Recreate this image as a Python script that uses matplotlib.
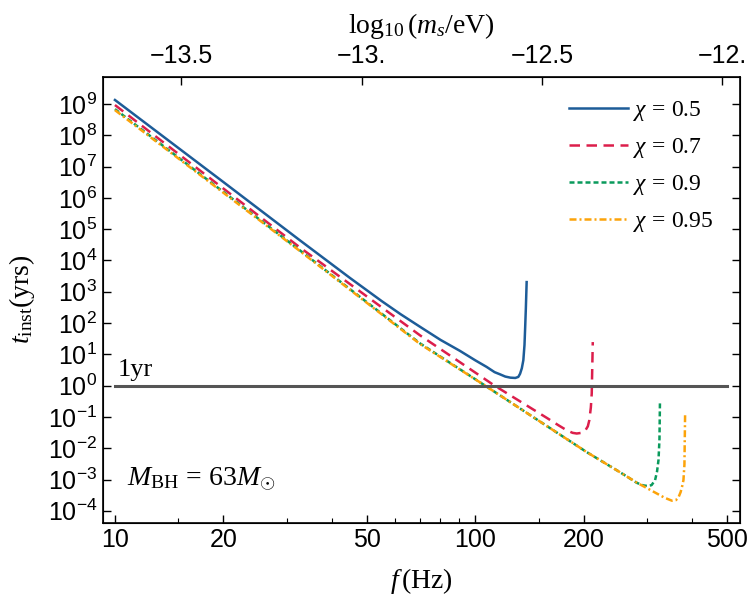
import numpy as np
import matplotlib
matplotlib.use("Agg")
import matplotlib.pyplot as plt
from matplotlib.ticker import FixedLocator, NullFormatter, NullLocator

plt.rcParams['mathtext.fontset'] = 'custom'
plt.rcParams['mathtext.rm'] = 'Liberation Serif'
plt.rcParams['mathtext.it'] = 'Liberation Serif:italic'
plt.rcParams['mathtext.sf'] = 'Liberation Sans'
plt.rcParams['font.family'] = ['Liberation Serif', 'DejaVu Serif']

# instability time (yrs) vs GW frequency (Hz)
f_05 = [10, 20, 32.6, 44.9, 55, 62, 70.2, 80, 90.6, 100, 107.4, 113, 117, 121, 125, 129,
        131.5, 133, 134.5, 135.8, 136.8, 137.4, 138, 138.7]
t_05 = [1.35e9, 3.2e6, 4.4e4, 2.75e3, 500, 192, 76, 29, 12.9, 6.4, 3.97, 2.7, 2.3, 1.95, 1.8, 1.76,
        1.9, 2.4, 3.6, 6.5, 20, 74, 300, 2040]

f_07 = [10, 32.6, 70.2, 90, 113, 133, 157.8, 170, 179, 186, 191, 197, 201.4, 205, 207, 209, 210.2, 211.6]
t_07 = [9.3e8, 2.6e4, 40.5, 5.9, 1.0, 0.314, 0.093, 0.054, 0.0377, 0.031, 0.0295, 0.031, 0.0356,
        0.05, 0.0785, 0.2, 0.56, 24.7]

f_09 = [10, 32.6, 70.2, 106.4, 150, 203.6, 252, 280.5, 292, 300, 308, 315, 319, 322, 324, 325]
t_09 = [6.9e8, 2.1e4, 22.4, 1.0, 0.075, 7.5e-3, 1.7e-3, 7.8e-4, 6.5e-4, 6.2e-4, 6.6e-4, 9.5e-4,
        1.8e-3, 4.2e-3, 0.02, 0.30]

f_095 = [10, 32.6, 70.2, 106.4, 150, 203.6, 252, 280.5, 311.6, 335, 350.9, 360, 365.9, 371, 375,
         377.6, 380, 381.6]
t_095 = [6.4e8, 2.0e4, 21.4, 1.0, 0.075, 7.5e-3, 1.7e-3, 7.9e-4, 4.1e-4, 2.6e-4, 2.1e-4, 2.2e-4,
         2.7e-4, 4.0e-4, 6.5e-4, 9.5e-4, 3.0e-3, 0.113]

labels = [r'$\chi\,=\,0.5$', r'$\chi\,=\,0.7$', r'$\chi\,=\,0.9$', r'$\chi\,=\,0.95$']
colors = ['#1d5c98', '#dc1e4b', '#0a9a5c', '#fca30a']

x_major = [10, 20, 50, 100, 200, 500]
x_minor = [15, 30, 40, 60, 70, 80, 90, 150, 300, 400]
y_major = [10.0 ** k for k in range(-4, 10)]
m_ticks = [-13.5, -13.0, -12.5, -12.0]
m_labels = ['\u221213.5', '\u221213.', '\u221212.5', '\u221212.']
h_eVs = 4.135667e-15

fig = plt.figure(figsize=(7.5, 6.03), dpi=100)
ax = fig.add_axes([0.137, 0.1332, 0.8497, 0.7399])

ax.plot(f_05, t_05, color=colors[0], lw=1.8, label=labels[0])
ax.plot(f_07, t_07, color=colors[1], lw=1.8, ls=(0, (4.2, 2.6)), label=labels[1])
ax.plot(f_09, t_09, color=colors[2], lw=1.8, ls=(0, (2.0, 1.2)), label=labels[2])
ax.plot(f_095, t_095, color=colors[3], lw=1.8, ls=(0, (2.8, 1.2, 0.8, 1.2)), label=labels[3])
ax.plot([10, 500], [1, 1], color='#555555', lw=2.2)

ax.set_xscale('log')
ax.set_yscale('log')
ax.set_xlim(9.25, 542)
ax.set_ylim(10 ** -4.38, 10 ** 9.88)

ax.xaxis.set_major_locator(FixedLocator(x_major))
ax.xaxis.set_minor_locator(FixedLocator(x_minor))
ax.xaxis.set_minor_formatter(NullFormatter())
ax.set_xticklabels([str(v) for v in x_major], family='Liberation Sans')
ax.yaxis.set_major_locator(FixedLocator(y_major))
ax.yaxis.set_minor_locator(NullLocator())
ax.set_yticklabels([r'$\mathsf{10^{%d}}$' % k for k in range(-4, 10)])

ax.tick_params(which='major', direction='in', length=6, width=1.0, labelsize=18,
               top=False, right=True, pad=4)
ax.tick_params(which='minor', direction='in', length=3.5, width=0.8, top=False, right=False)
for sp in ax.spines.values():
    sp.set_linewidth(1.2)

ax.set_xlabel(r'$f\,$(Hz)', fontsize=20, labelpad=10)
ax.set_ylabel(r'$t_{\rm inst}$(yrs)', fontsize=20, labelpad=8)

# top axis: boson mass, f = 2 m / h
ax2 = ax.twiny()
ax2.set_xscale('log')
ax2.set_xlim(ax.get_xlim())
ax2.xaxis.set_major_locator(FixedLocator([2 * 10 ** m / h_eVs for m in m_ticks]))
ax2.xaxis.set_minor_locator(NullLocator())
ax2.set_xticklabels(m_labels, family='Liberation Sans')
ax2.tick_params(direction='in', length=6, width=1.0, labelsize=18, pad=6)
ax2.set_xlabel(r'$\log_{10}(m_s/{\rm eV})$', fontsize=20, labelpad=8)

ax.text(10.2, 2.1, '1yr', fontsize=19, va='baseline')
ax.text(10.77, 1.0e-3, r'$M_{\rm BH}\,=\,63M_{\odot}$', fontsize=20, va='center')

ax.legend(loc='upper left', bbox_to_anchor=(0.732, 0.95), frameon=False, fontsize=17,
          handlelength=2.5, handletextpad=0.2, labelspacing=0.55, borderpad=0, borderaxespad=0)

fig.savefig('out.png', dpi=100)
